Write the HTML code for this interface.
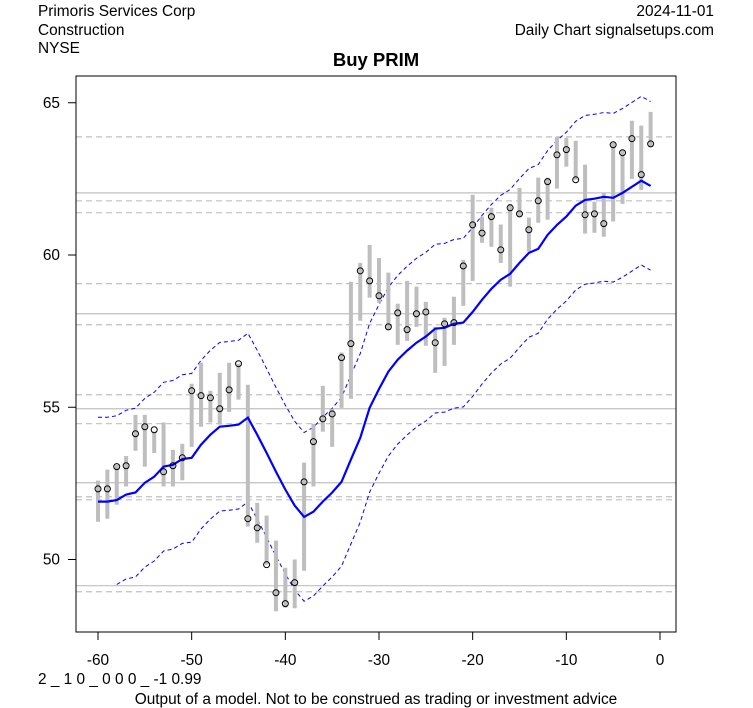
<!DOCTYPE html>
<html><head><meta charset="utf-8"><style>
html,body{margin:0;padding:0;background:#fff;}
svg{display:block;font-family:"Liberation Sans",Arial,sans-serif;}
</style></head><body>
<svg id="chart" width="753" height="708" viewBox="0 0 753 708" xmlns="http://www.w3.org/2000/svg">
<rect width="753" height="708" fill="#fff"/>
<text x="38" y="16" font-size="15.4">Primoris Services Corp</text>
<text x="38" y="35" font-size="15.4">Construction</text>
<text x="38" y="53" font-size="15.4">NYSE</text>
<text x="714" y="16" font-size="15.4" text-anchor="end">2024-11-01</text>
<text x="714" y="35" font-size="15.4" text-anchor="end">Daily Chart signalsetups.com</text>
<text x="376" y="66" font-size="18.5" font-weight="bold" text-anchor="middle">Buy PRIM</text>
<g id="grid"></g>
<g id="bands"></g>
<g id="bars"></g>
<g id="ma"></g>
<g id="pts"></g>
<rect x="76" y="76" width="600" height="556" fill="none" stroke="#000" stroke-width="1"/>
<g id="axes"></g>
<text x="38" y="684" font-size="15.4">2 _ 1 0 _ 0 0 0 _ -1 0.99</text>
<text x="376" y="704" font-size="15.4" text-anchor="middle">Output of a model. Not to be construed as trading or investment advice</text>
</svg>
<script>
const days=[];for(let d=-60;d<=-1;d++)days.push(d);
const closes=[52.32,52.32,53.05,53.08,54.13,54.36,54.26,52.88,53.08,53.34,55.54,55.38,55.31,54.95,55.57,56.43,51.34,51.04,49.83,48.91,48.55,49.24,52.55,53.87,54.62,54.78,56.63,57.09,59.48,59.15,58.66,57.64,58.1,57.55,58.07,58.13,57.12,57.74,57.78,59.64,60.99,60.72,61.26,60.17,61.55,61.35,60.83,61.78,62.41,63.29,63.46,62.47,61.32,61.35,61.03,63.62,63.36,63.82,62.64,63.65];
const highs=[52.59,52.95,53.11,53.4,54.75,54.75,54.2,54.5,53.6,53.8,55.77,56.46,55.54,56.13,56.46,56.43,55.74,51.86,51.44,50.62,49.73,50.0,53.18,54.46,55.7,54.95,56.8,59.12,59.74,60.33,59.9,59.42,58.4,59.15,58.96,58.46,57.64,57.94,58.63,59.84,61.98,61.26,61.55,61.0,61.68,62.2,61.23,62.54,62.54,63.88,63.85,63.75,62.97,61.75,62.04,63.69,63.46,64.41,64.25,64.7];
const lows=[51.24,51.34,51.8,52.4,53.57,53.05,53.5,52.4,52.4,52.6,53.7,54.36,54.5,54.43,54.85,55.25,51.08,50.55,49.83,48.3,48.42,48.4,49.63,52.4,54.2,53.7,54.98,55.28,57.84,58.6,58.43,57.55,57.05,57.18,57.64,57.02,56.13,56.36,57.05,58.33,59.15,60.4,60.27,59.74,58.96,61.26,60.11,61.06,61.16,62.18,62.9,62.47,60.7,60.73,60.6,61.1,61.68,62.5,62.14,63.55];
const movingAvg=[51.9,51.9,51.95,52.13,52.2,52.52,52.72,53.05,53.11,53.3,53.34,53.77,54.1,54.36,54.39,54.43,54.66,54.1,53.5,52.88,52.3,51.77,51.4,51.57,51.9,52.2,52.55,53.28,54.0,54.98,55.6,56.17,56.56,56.86,57.12,57.32,57.58,57.61,57.74,57.78,58.13,58.53,58.89,59.19,59.38,59.74,60.07,60.2,60.66,60.99,61.26,61.62,61.81,61.85,61.91,61.88,62.04,62.24,62.44,62.27];
const bandWidth=2.77;
const lowerBandStart=2;
const solidLevels=[62.04,58.07,54.95,52.52,49.14];
const dashedLevels=[63.88,61.78,61.39,59.06,57.71,55.41,54.46,52.06,51.96,48.94];
const xTicks=[-60,-50,-40,-30,-20,-10,0];
const yTicks=[50,55,60,65];

const NS="http://www.w3.org/2000/svg";
const X0=76,X1=676;
function xs(d){return 660+(d)*(562/60);}
function ys(v){return 255-(v-60)*30.45;}
function mk(tag,attrs,parent){const e=document.createElementNS(NS,tag);for(const k in attrs)e.setAttribute(k,attrs[k]);document.getElementById(parent).appendChild(e);return e;}

solidLevels.forEach(v=>{const l=mk('line',{x1:X0,x2:X1,y1:ys(v),y2:ys(v),stroke:'#c0c0c0','stroke-width':1.2},'grid');

});
dashedLevels.forEach(v=>{const l=mk('line',{x1:X0,x2:X1,y1:ys(v),y2:ys(v),stroke:'#c0c0c0','stroke-width':1.2,'stroke-dasharray':'6,4'},'grid');

});

const up=days.map((d,i)=>xs(d).toFixed(1)+','+ys(movingAvg[i]+bandWidth).toFixed(1)).join(' ');
const lo=days.slice(lowerBandStart).map((d,j)=>xs(d).toFixed(1)+','+ys(movingAvg[j+lowerBandStart]-bandWidth).toFixed(1)).join(' ');
const ub=mk('polyline',{points:up,fill:'none',stroke:'#0000ff','stroke-width':1,'stroke-dasharray':'4,3'},'bands');


const lb=mk('polyline',{points:lo,fill:'none',stroke:'#0000ff','stroke-width':1,'stroke-dasharray':'4,3'},'bands');



days.forEach((d,i)=>{const b=mk('line',{x1:xs(d),x2:xs(d),y1:ys(highs[i]),y2:ys(lows[i]),stroke:'#bebebe','stroke-width':4},'bars');

});

const mp=days.map((d,i)=>xs(d).toFixed(1)+','+ys(movingAvg[i]).toFixed(1)).join(' ');
const ml=mk('polyline',{points:mp,fill:'none',stroke:'#0000ff','stroke-width':2.2},'ma');



days.forEach((d,i)=>{const c=mk('circle',{cx:xs(d),cy:ys(closes[i]),r:3,fill:'none',stroke:'#000','stroke-width':1},'pts');

});

const xa=mk('line',{x1:xs(-60),x2:xs(0),y1:632,y2:632,stroke:'#000'},'axes');


xTicks.forEach(t=>{const l=mk('line',{x1:xs(t),x2:xs(t),y1:632,y2:640,stroke:'#000'},'axes');


const tx=mk('text',{x:xs(t),y:665,'font-size':15.4,'text-anchor':'middle'},'axes');tx.textContent=t;

});
yTicks.forEach(t=>{const l=mk('line',{x1:68,x2:76,y1:ys(t),y2:ys(t),stroke:'#000'},'axes');


const tx=mk('text',{x:60,y:ys(t)+5,'font-size':15.4,'text-anchor':'end'},'axes');tx.textContent=t;

});
</script>
</body></html>
